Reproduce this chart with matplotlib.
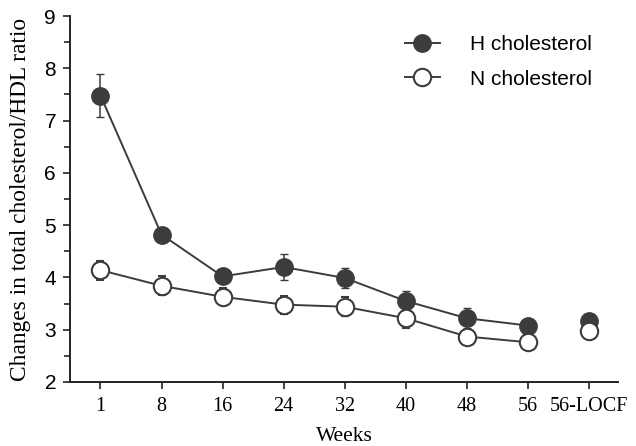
import matplotlib
matplotlib.use("Agg")
import matplotlib.pyplot as plt
from matplotlib.lines import Line2D
import numpy as np

weeks = ["1", "8", "16", "24", "32", "40", "48", "56", "56-LOCF"]
h_chol = [7.48, 4.82, 4.02, 4.20, 3.99, 3.55, 3.22, 3.08, 3.16]
h_err = [0.42, 0.0, 0.08, 0.24, 0.19, 0.19, 0.19, 0.08, 0.05]
n_chol = [4.14, 3.84, 3.63, 3.48, 3.44, 3.22, 2.87, 2.76, 2.97]
n_err = [0.18, 0.18, 0.16, 0.17, 0.18, 0.18, 0.08, 0.05, 0.05]

dark = "#3c3c3c"
ms = 12.5
fig = plt.figure(figsize=(6.36, 4.46), dpi=100)
ax = fig.add_axes([0.110, 0.1435, 0.862, 0.8205])

x = np.arange(len(weeks))
main = x[:-1]
# connected weeks
ax.errorbar(main, h_chol[:-1], yerr=h_err[:-1], fmt="-o", color=dark, mfc=dark, mec=dark,
            ms=ms, lw=1.4, capsize=3, elinewidth=1.1, zorder=3)
ax.errorbar(main, n_chol[:-1], yerr=n_err[:-1], fmt="-o", color=dark, mfc="white", mec=dark,
            ms=ms, mew=1.5, lw=1.4, capsize=3, elinewidth=1.1, zorder=4)
# LOCF points, not connected
ax.errorbar(x[-1:], h_chol[-1:], yerr=h_err[-1:], fmt="o", color=dark, mfc=dark, mec=dark,
            ms=ms, capsize=3, elinewidth=1.1, zorder=3)
ax.errorbar(x[-1:], n_chol[-1:], yerr=n_err[-1:], fmt="o", color=dark, mfc="white", mec=dark,
            ms=ms, mew=1.5, capsize=3, elinewidth=1.1, zorder=4)

ax.set_xlim(-0.5, 8.48)
ax.set_ylim(2, 9)
ax.set_yticks(range(2, 10))
ax.set_yticks(np.arange(2.5, 9, 1), minor=True)
ax.set_xticks(x)
ax.set_xticklabels(weeks, family="Liberation Serif", fontsize=14.5)
for lab in ax.get_yticklabels():
    lab.set_family("Liberation Sans")
    lab.set_fontsize(15)

for s in ["top", "right"]:
    ax.spines[s].set_visible(False)
for s in ["left", "bottom"]:
    ax.spines[s].set_linewidth(1.4)
    ax.spines[s].set_color("#222222")
ax.tick_params(axis="both", which="major", length=5, width=1.2, color="#222222")
ax.tick_params(axis="y", which="minor", length=4, width=1.2, color="#222222")
ax.tick_params(axis="x", pad=6)
ax.tick_params(axis="y", pad=5)

ax.set_ylabel("Changes in total cholesterol/HDL ratio", family="Liberation Serif",
              fontsize=16.8, labelpad=10)
ax.set_xlabel("Weeks", family="Liberation Serif", fontsize=15.5, labelpad=8)

handles = [
    Line2D([], [], color=dark, marker="o", ms=ms, mfc=dark, mec=dark, lw=1.4),
    Line2D([], [], color=dark, marker="o", ms=ms, mfc="white", mec=dark, mew=1.5, lw=1.4),
]
ax.legend(handles, ["H cholesterol", "N cholesterol"], loc="upper left",
          bbox_to_anchor=(405 / 636, 1 - 35 / 446), bbox_transform=fig.transFigure,
          frameon=False, borderpad=0, borderaxespad=0,
          prop={"family": "Liberation Sans", "size": 15}, handlelength=1.67,
          handletextpad=1.45, labelspacing=0.75)

fig.savefig("out.png", dpi=100)
